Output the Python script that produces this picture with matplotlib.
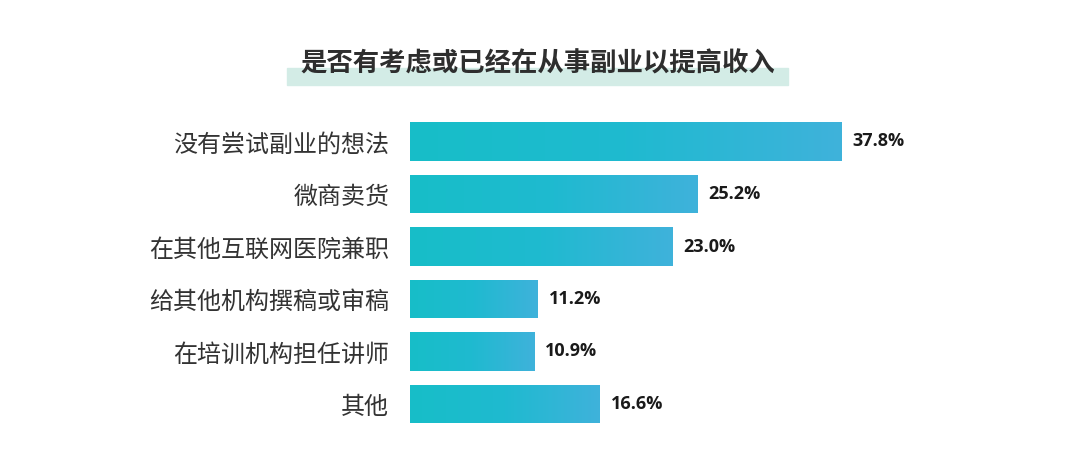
import numpy as np
import matplotlib.pyplot as plt
from matplotlib.colors import LinearSegmentedColormap
from matplotlib.patches import Rectangle

plt.rcParams['font.family'] = ['Noto Sans CJK SC', 'DejaVu Sans']

# Data
categories = ['没有尝试副业的想法', '微商卖货', '在其他互联网医院兼职',
              '给其他机构撰稿或审稿', '在培训机构担任讲师', '其他']
values = [37.8, 25.2, 23.0, 11.2, 10.9, 16.6]
title = '是否有考虑或已经在从事副业以提高收入'

cmap = LinearSegmentedColormap.from_list('bar_grad', ['#17bec8', '#1fbad0', '#3fb2db'])

fig = plt.figure(figsize=(10.8, 4.74), dpi=100)
ax = fig.add_axes([410 / 1080, 1 - 430.25 / 474, 514 / 1080, 315 / 474])

bar_h = 0.74
y = np.arange(len(categories))
bars = ax.barh(y, values, height=bar_h, color='none', edgecolor='none')

grad = np.linspace(0, 1, 256).reshape(1, -1)
for bar, v, yi in zip(bars, values, y):
    im = ax.imshow(grad, cmap=cmap, aspect='auto',
                   extent=[0, v, yi + bar_h / 2, yi - bar_h / 2],
                   zorder=2, interpolation='bicubic')
    im.set_clip_path(bar)
    ax.text(v + 0.95, yi, f'{v:.1f}%', va='center', ha='left',
            fontsize=13, fontweight='bold', color='#1a1a1a',
            family=['Open Sans', 'DejaVu Sans'])

ax.set_xlim(0, 45)
ax.set_ylim(len(categories) - 0.5, -0.5)
ax.set_yticks(y)
ax.set_yticklabels(categories, fontsize=17.3, color='#333333')
ax.tick_params(axis='y', length=0, pad=15)
ax.set_xticks([])
for s in ax.spines.values():
    s.set_visible(False)

# title with highlight band
fig.patches.append(Rectangle((287 / 1080, 1 - 85 / 474), 501 / 1080, 17 / 474,
                             transform=fig.transFigure, color='#d3ece6', zorder=0))
fig.text(538 / 1080, 1 - 64 / 474, title, ha='center', va='center',
         fontsize=19, fontweight='bold', color='#2e2e2e', zorder=2)

fig.savefig('out.png', dpi=100)
